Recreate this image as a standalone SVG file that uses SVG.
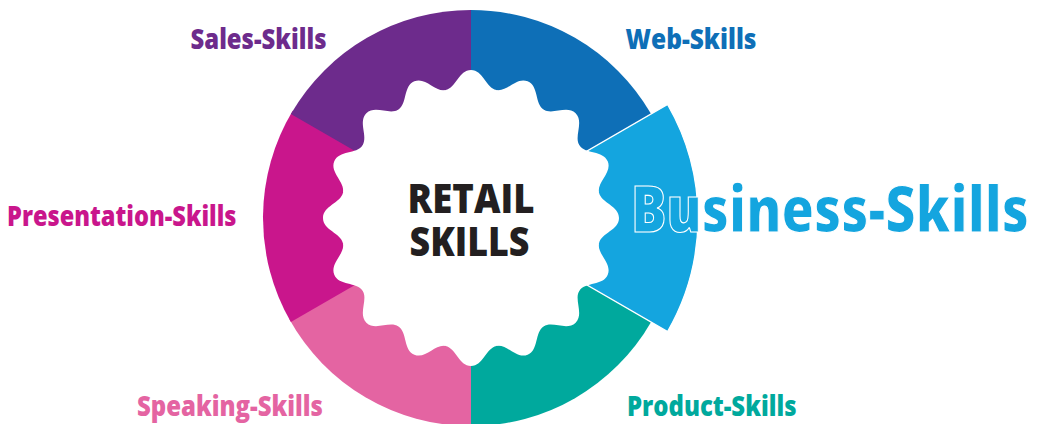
<svg xmlns="http://www.w3.org/2000/svg" xmlns:xlink="http://www.w3.org/1999/xlink" width="1043" height="424" viewBox="0 0 1043 424">
  <style>
    .lbl { font-family: "Open Sans", "Noto Sans", "DejaVu Sans", sans-serif; font-weight: 800; font-size: 29px; }
    .core { font-family: "Open Sans", "Noto Sans", "DejaVu Sans", sans-serif; font-weight: 800; font-size: 41px; fill: #231F20; }
    .big { font-family: "Open Sans", "Noto Sans", "DejaVu Sans", sans-serif; font-weight: 800; font-size: 63px; }
    .sales { fill: #6D2B8C; }
    .web { fill: #0E6FB7; }
    .biz { fill: #14A5DF; }
    .product { fill: #00A99D; }
    .speaking { fill: #E464A2; }
    .present { fill: #C9168C; }
  </style>
  <defs>
    <!-- one lobe of the wavy hub, pointing up from the hub centre -->
    <path id="lobe" d="M0,0 L-25.46,-127.99 C-14.91,-130.09 -12.21,-148 0,-148 C12.21,-148 14.91,-130.09 25.46,-127.99 Z" fill="#FFFFFF"/>
  </defs>

  <rect width="1043" height="424" fill="#FFFFFF"/>

  <!-- ring segments (centre 471,218, radius 208) -->
  <g id="seg-speaking">
    <path class="speaking" d="M471,218 L471,426 A208,208 0 0,1 289.08,318.84 Z"/>
  </g>
  <g id="seg-presentation">
    <path class="present" d="M471,218 L290.87,322 A208,208 0 0,1 292.71,110.87 Z"/>
  </g>
  <g id="seg-sales">
    <path class="sales" d="M471,218 L290.87,114 A208,208 0 0,1 471,10 Z"/>
  </g>
  <g id="seg-web">
    <path class="web" d="M471,218 L471,10 A208,208 0 0,1 651.13,114 Z"/>
  </g>
  <g id="seg-product">
    <path class="product" d="M471,218 L651.13,322 A208,208 0 0,1 471,426 Z"/>
  </g>
  <!-- highlighted segment, pulled out to a larger radius -->
  <g id="seg-business">
    <path class="biz" d="M471,218 L667.59,104.5 A227,227 0 0,1 667.59,331.5 Z" stroke="#FFFFFF" stroke-width="1.3" stroke-linejoin="miter"/>
  </g>

  <!-- wavy white hub -->
  <g id="hub" transform="translate(471,218)">
    <use xlink:href="#lobe"/>
    <use xlink:href="#lobe" transform="rotate(22.5)"/>
    <use xlink:href="#lobe" transform="rotate(45)"/>
    <use xlink:href="#lobe" transform="rotate(67.5)"/>
    <use xlink:href="#lobe" transform="rotate(90)"/>
    <use xlink:href="#lobe" transform="rotate(112.5)"/>
    <use xlink:href="#lobe" transform="rotate(135)"/>
    <use xlink:href="#lobe" transform="rotate(157.5)"/>
    <use xlink:href="#lobe" transform="rotate(180)"/>
    <use xlink:href="#lobe" transform="rotate(202.5)"/>
    <use xlink:href="#lobe" transform="rotate(225)"/>
    <use xlink:href="#lobe" transform="rotate(247.5)"/>
    <use xlink:href="#lobe" transform="rotate(270)"/>
    <use xlink:href="#lobe" transform="rotate(292.5)"/>
    <use xlink:href="#lobe" transform="rotate(315)"/>
    <use xlink:href="#lobe" transform="rotate(337.5)"/>
    <circle r="130.3" fill="#FFFFFF"/>
  </g>

  <g id="title">
    <text class="core" x="471" y="213" text-anchor="middle" textLength="127" lengthAdjust="spacingAndGlyphs">RETAIL</text>
    <text class="core" x="469.5" y="256" text-anchor="middle" textLength="120" lengthAdjust="spacingAndGlyphs">SKILLS</text>
  </g>

  <g id="labels">
    <text class="lbl sales" x="190.5" y="49" textLength="136" lengthAdjust="spacingAndGlyphs">Sales-Skills</text>
    <text class="lbl web" x="625.5" y="49" textLength="131" lengthAdjust="spacingAndGlyphs">Web-Skills</text>
    <text class="lbl present" x="7" y="226" textLength="229.5" lengthAdjust="spacingAndGlyphs">Presentation-Skills</text>
    <text class="lbl speaking" x="137" y="416" textLength="186" lengthAdjust="spacingAndGlyphs">Speaking-Skills</text>
    <text class="lbl product" x="627" y="416" textLength="169.5" lengthAdjust="spacingAndGlyphs">Product-Skills</text>
    <text class="big biz" x="631" y="232" textLength="398" lengthAdjust="spacingAndGlyphs" stroke="#FFFFFF" stroke-width="1.2">Business-Skills</text>
  </g>
</svg>
